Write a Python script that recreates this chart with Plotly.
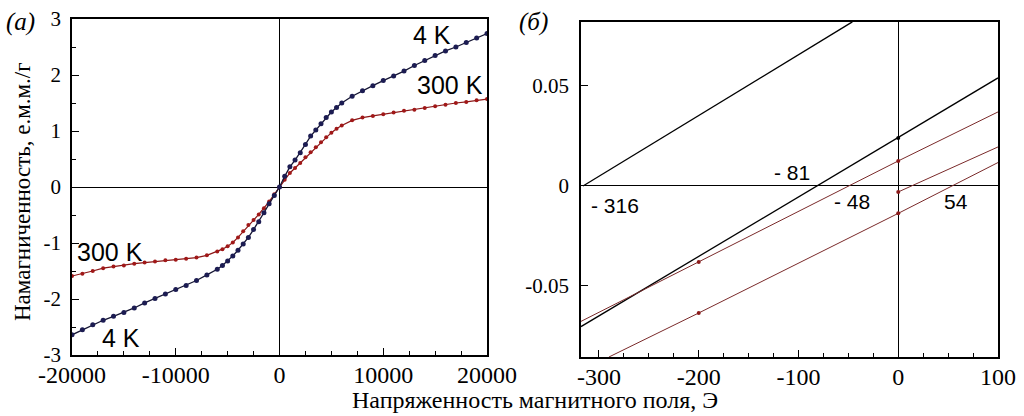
import plotly.graph_objects as go

# ---------------- Panel (a): M(H) curves ----------------
h_4k = [-20000, -19000, -18000, -17000, -16000, -15000, -14000, -13000, -12000, -11000,
        -10000, -9000, -8000, -7000, -6000, -5500, -5000, -4500, -4000, -3500, -3000,
        -2500, -2000, -1500, -1000, -500, 0, 500, 1000, 1500, 2000, 2500, 3000, 3500,
        4000, 4500, 5000, 5500, 6000, 7000, 8000, 9000, 10000, 11000, 12000, 13000,
        14000, 15000, 16000, 17000, 18000, 19000, 20000]
m_4k = [-2.64, -2.55, -2.46, -2.38, -2.31, -2.24, -2.16, -2.07, -1.99, -1.91,
        -1.83, -1.76, -1.67, -1.57, -1.47, -1.40, -1.32, -1.23, -1.13, -1.02, -0.90,
        -0.76, -0.62, -0.46, -0.30, -0.15, 0.0, 0.19, 0.36, 0.48, 0.61, 0.76, 0.91, 1.02,
        1.13, 1.24, 1.34, 1.42, 1.50, 1.62, 1.72, 1.81, 1.90, 1.98, 2.07, 2.17,
        2.26, 2.35, 2.43, 2.50, 2.58, 2.66, 2.74]

h_300k = [-20000, -19000, -18000, -17000, -16000, -15000, -14000, -13000, -12000, -11000,
          -10000, -9000, -8000, -7000, -6000, -5500, -5000, -4500, -4000, -3500, -3000,
          -2500, -2000, -1500, -1000, -500, 0, 500, 1000, 1500, 2000, 2500, 3000, 3500,
          4000, 4500, 5000, 5500, 6000, 7000, 8000, 9000, 10000, 11000, 12000, 13000,
          14000, 15000, 16000, 17000, 18000, 19000, 20000]
m_300k = [-1.59, -1.55, -1.50, -1.45, -1.42, -1.40, -1.37, -1.35, -1.33, -1.31,
          -1.30, -1.28, -1.26, -1.22, -1.15, -1.11, -1.06, -0.99, -0.90, -0.79, -0.68,
          -0.59, -0.49, -0.38, -0.26, -0.13, 0.0, 0.13, 0.25, 0.34, 0.43, 0.53, 0.62, 0.71,
          0.80, 0.89, 0.97, 1.04, 1.10, 1.19, 1.24, 1.27, 1.30, 1.33, 1.36, 1.38,
          1.41, 1.44, 1.47, 1.50, 1.52, 1.55, 1.57]

# ---------------- Panel (б): low-field lines ----------------
hb_black1 = [-316, -46]
mb_black1 = [0.0, 0.082]
hb_black2 = [-318, -200, 0, 100]
mb_black2 = [-0.0703, -0.0352, 0.024, 0.054]
hb_red1 = [-318, -200, 0, 100]
mb_red1 = [-0.0677, -0.038, 0.0125, 0.037]
hb_red2 = [0, 100]
mb_red2 = [-0.003, 0.0195]
hb_red3 = [-290, -200, 0, 100]
mb_red3 = [-0.0855, -0.0635, -0.0137, 0.0117]

dots_h = [0, 0, 0, 0, -200, -200]
dots_m = [0.024, 0.0125, -0.003, -0.0137, -0.038, -0.0635]
dots_c = ["#000000", "#8b1a1a", "#8b1a1a", "#8b1a1a", "#8b1a1a", "#8b1a1a"]

fig = go.Figure()

# panel a traces
fig.add_trace(go.Scatter(x=h_300k, y=m_300k, mode="lines+markers",
                         line=dict(color="#8b1515", width=1.2),
                         marker=dict(color="#a01818", size=4),
                         xaxis="x", yaxis="y", showlegend=False))
fig.add_trace(go.Scatter(x=h_4k, y=m_4k, mode="lines+markers",
                         line=dict(color="#141432", width=1.3),
                         marker=dict(color="#1c1c52", size=5),
                         xaxis="x", yaxis="y", showlegend=False))

# panel b traces
for hx, my, col, w in [(hb_black1, mb_black1, "#000000", 1.3),
                       (hb_black2, mb_black2, "#000000", 1.3),
                       (hb_red1, mb_red1, "#7a2a2a", 1.0),
                       (hb_red2, mb_red2, "#7a2a2a", 1.0),
                       (hb_red3, mb_red3, "#7a2a2a", 1.0)]:
    fig.add_trace(go.Scatter(x=hx, y=my, mode="lines",
                             line=dict(color=col, width=w),
                             xaxis="x2", yaxis="y2", showlegend=False))
fig.add_trace(go.Scatter(x=dots_h, y=dots_m, mode="markers",
                         marker=dict(color=dots_c, size=4),
                         xaxis="x2", yaxis="y2", showlegend=False))

W, H = 1024, 416
serif = "Liberation Serif, Times New Roman, serif"
sans = "Liberation Sans, Arial, sans-serif"

axis_common = dict(showline=True, linecolor="black", linewidth=1.5, mirror=True,
                   ticks="inside", ticklen=7, tickwidth=1, tickcolor="black",
                   showgrid=False, zeroline=True, zerolinecolor="black", zerolinewidth=1,
                   automargin=False)
xfont = dict(family=serif, size=24, color="black")
yfont = dict(family=serif, size=21, color="black")

fig.update_layout(
    width=W, height=H,
    margin=dict(l=0, r=0, t=0, b=0, autoexpand=False),
    paper_bgcolor="white", plot_bgcolor="white",
    xaxis=dict(domain=[72 / W, 487 / W], range=[-20000, 20000], anchor="y",
               tickvals=[-20000, -10000, 0, 10000, 20000],
               ticktext=["-20000", "-10000", "0", "10000", "20000"],
               minor=dict(ticks="inside", ticklen=4, dtick=2500, tick0=0, tickcolor="black"),
               ticklabelstandoff=-3, tickfont=xfont,
               **axis_common),
    yaxis=dict(domain=[1 - 355 / H, 1 - 19 / H], range=[-3, 3], anchor="x",
               tickvals=[-3, -2, -1, 0, 1, 2, 3],
               ticktext=["-3", "-2", "-1", "0", "1", "2", "3"],
               minor=dict(ticks="inside", ticklen=4, dtick=0.5, tick0=0, tickcolor="black"),
               ticklabelstandoff=5, tickfont=yfont,
               **axis_common),
    xaxis2=dict(domain=[581 / W, 998 / W], range=[-318, 100], anchor="y2",
                tickvals=[-300, -200, -100, 0, 100],
                ticktext=["-300", "-200", "-100", "0", "100"],
                minor=dict(ticks="inside", ticklen=4, dtick=25, tick0=0, tickcolor="black"),
                ticklabelstandoff=-3, tickfont=xfont,
                **axis_common),
    yaxis2=dict(domain=[1 - 357 / H, 1 - 21.5 / H], range=[-0.0855, 0.0822], anchor="x2",
                tickvals=[-0.05, 0, 0.05],
                ticktext=["-0.05", "0", "0.05"],
                ticklabelstandoff=6, tickfont=yfont,
                **axis_common),
)

ann = []
def A(text, x, y, xref, yref, size=19, family=sans, **kw):
    ann.append(dict(text=text, x=x, y=y, xref=xref, yref=yref, showarrow=False,
                    xanchor="center", yanchor="middle",
                    font=dict(family=family, size=size, color="black"), **kw))

# panel a labels
A("4 K", 14700, 2.71, "x", "y", size=25)
A("300 K", 16430, 1.82, "x", "y", size=25)
A("300 K", -16340, -1.16, "x", "y", size=25)
A("4 K", -15280, -2.70, "x", "y", size=25)
# panel b labels
A("- 316", -284, -0.010, "x2", "y2", size=21)
A("- 81", -106, 0.0065, "x2", "y2", size=21)
A("- 48", -46, -0.008, "x2", "y2", size=21)
A("54", 58, -0.008, "x2", "y2", size=21)
# panel letters
A("<i>(a)</i>", 20 / W, 1 - 22 / H, "paper", "paper", size=25, family=serif)
A("<i>(б)</i>", 533 / W, 1 - 22 / H, "paper", "paper", size=25, family=serif)
# axis titles
A("Напряженность магнитного поля, Э", 535 / W, 1 - 400 / H, "paper", "paper",
  size=24, family=serif)
A("Намагниченность, е.м.м./г", 22 / W, 1 - 192 / H, "paper", "paper",
  size=23, family=serif, textangle=-90)

fig.update_layout(annotations=ann)
fig.write_html("out.html",
               config={"displayModeBar": False},
               post_script="document.body.style.margin='0';"
                           "document.body.style.overflow='hidden';")
